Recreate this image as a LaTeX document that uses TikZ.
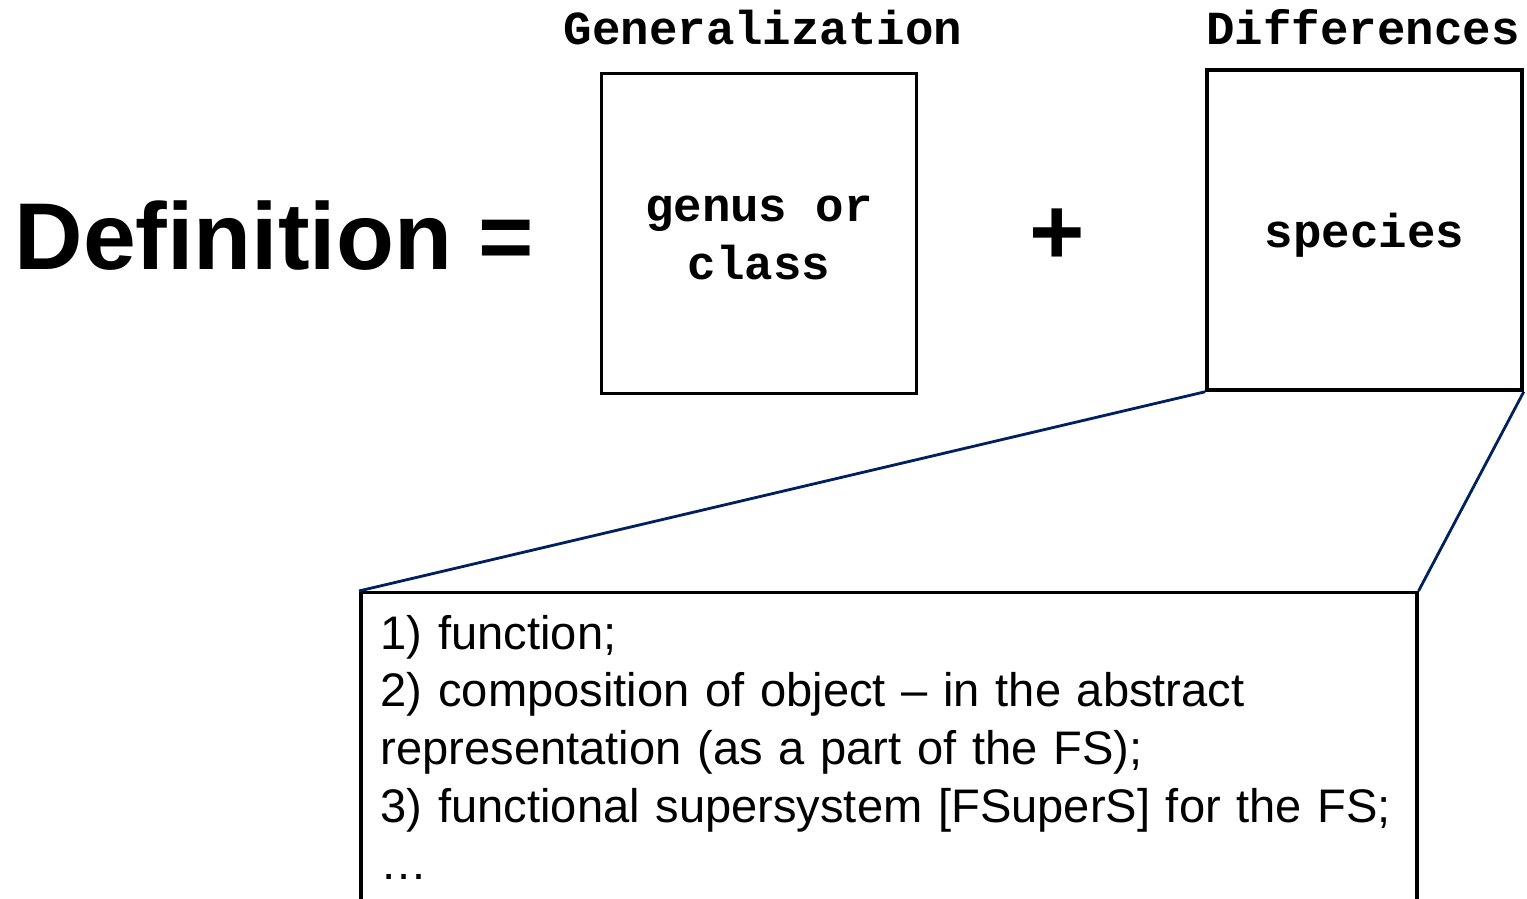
\documentclass[tikz,border=0pt]{standalone}
\usepackage{fontspec}
\setmainfont{Liberation Sans}
\setmonofont{Liberation Mono}
\usepackage{tikz}
\usetikzlibrary{positioning,calc}
\definecolor{ZoomNavy}{HTML}{002060}
\definecolor{BoxBlack}{HTML}{000000}
\newcommand{\lowtext}[1]{\raisebox{-1.4pt}[\height][\depth]{#1}}
\tikzset{
    % Base box style
    basebox/.style={
        draw=BoxBlack,
        fill=white,
        line width=1pt,
        align=center,
        font=\fontsize{13.5}{16.5}\selectfont\ttfamily\bfseries
    },
    % Square term box
    termbox/.style={
        basebox,
        minimum width=3.15cm,
        minimum height=3.2cm
    },
    % Heading above a term box
    headlabel/.style={
        inner sep=0pt,
        font=\fontsize{13.5}{16.5}\selectfont\ttfamily\bfseries
    },
    % Big formula text
    bigtext/.style={
        inner sep=0pt,
        font=\fontsize{27}{32}\selectfont\bfseries
    },
    % Detail box (runs off the bottom edge)
    detailbox/.style={
        draw=BoxBlack,
        line width=1pt,
        align=left,
        inner xsep=0.2cm,
        inner ysep=6.4pt,
        text width=10.16cm,
        text depth=80pt,
        font=\fontsize{13.4}{16.4}\selectfont
    },
    % Zoom lines
    zoomline/.style={
        draw=ZoomNavy,
        line width=0.8pt
    }
}
\begin{document}
\begin{tikzpicture}
    \clip (0,0) rectangle (15.27,8.99);

    % Formula
    \node[bigtext,anchor=base west] (def) at (0.14,6.29) {Definition =};
    \node[bigtext] (plus) at (10.57,6.62) {+};

    % Term boxes
    \node[termbox] (genus) at (7.59,6.655) {\lowtext{genus or}\\\lowtext{class}};
    \node[termbox] (species) at (13.645,6.69) {\lowtext{species}};

    % Headings
    \node[headlabel,anchor=base] (gen) at (7.63,8.54) {Generalization};
    \node[headlabel,anchor=base] (diff) at (13.63,8.54) {Differences};

    % Detail box
    \node[detailbox,anchor=north west] (detail) at (3.59,3.08) {1) function;\\
        2) composition of object – in the abstract\\
        representation (as a part of the FS);\\
        3) functional supersystem [FSuperS] for the FS;\\
        …};

    % Zoom lines
    \draw[zoomline] (species.south west) -- (detail.north west);
    \draw[zoomline] (species.south east) -- (detail.north east);
\end{tikzpicture}
\end{document}
